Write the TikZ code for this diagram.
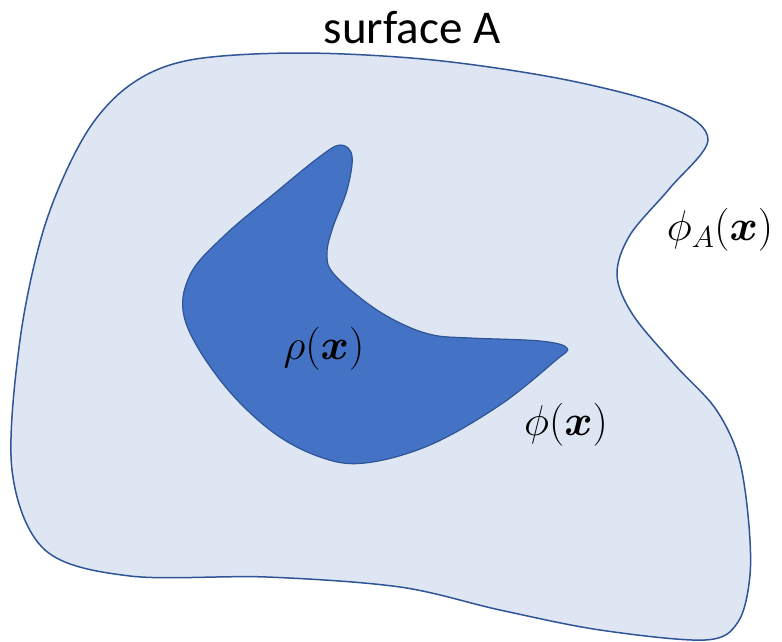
\documentclass[tikz,border=0pt]{standalone}
\usepackage{fix-cm}
\usepackage{amsmath}
\usepackage{amssymb}
\usepackage{bm}
\usepackage{fontspec}
\setmainfont{Carlito}
\usepackage{tikz}
\usetikzlibrary{positioning}

\definecolor{surffill}{HTML}{DEE6F3}
\definecolor{surfline}{HTML}{2F5597}
\definecolor{blobfill}{HTML}{4472C4}

\begin{document}
\begin{tikzpicture}[
        x=1pt, y=-1pt,
        surface/.style={
            draw=surfline,
            line width=1.5pt,
            fill=surffill
        },
        blob/.style={
            draw=surfline,
            line width=1.2pt,
            fill=blobfill
        },
        mathlbl/.style={inner sep=0pt, font=\fontsize{43}{46}\selectfont},
    ]

        \useasboundingbox (0,0) rectangle (782,641);

        % outer surface A
        \draw[surface] plot[smooth cycle, tension=0.55] coordinates {
            (190,60) (300,53) (433,60) (567,80) (672,108) (708,140)
            (670,188) (630,235) (617,275) (633,315) (675,365) (715,408)
            (738,455) (748,515) (750,575) (738,622) (705,640) (600,630)
            (500,610) (400,587) (267,577) (130,576) (45,550) (12,470)
            (20,340) (45,225) (85,135) (130,85)
        };

        % inner region
        \draw[blob] plot[smooth cycle, tension=0.6] coordinates {
            (340,145) (352,156) (347,190) (333,227) (327,253) (333,273)
            (367,303) (400,323) (433,335) (470,338) (540,341) (567,348)
            (555,361) (500,405) (430,445) (365,463) (320,457) (270,430)
            (220,380) (185,320) (190,275) (225,235) (275,193) (318,158)
        };

        \node[font=\fontsize{47}{50}\selectfont, anchor=base] (surflabel) at (412,43) {surface A};
        \node[mathlbl] (rholabel) at (324,349) {$\rho(\bm{x})$};
        \node[mathlbl] (philabel) at (566,425) {$\phi(\bm{x})$};
        \node[mathlbl] (phiAlabel) at (720,230) {$\phi_A(\bm{x})$};

    \end{tikzpicture}
\end{document}
